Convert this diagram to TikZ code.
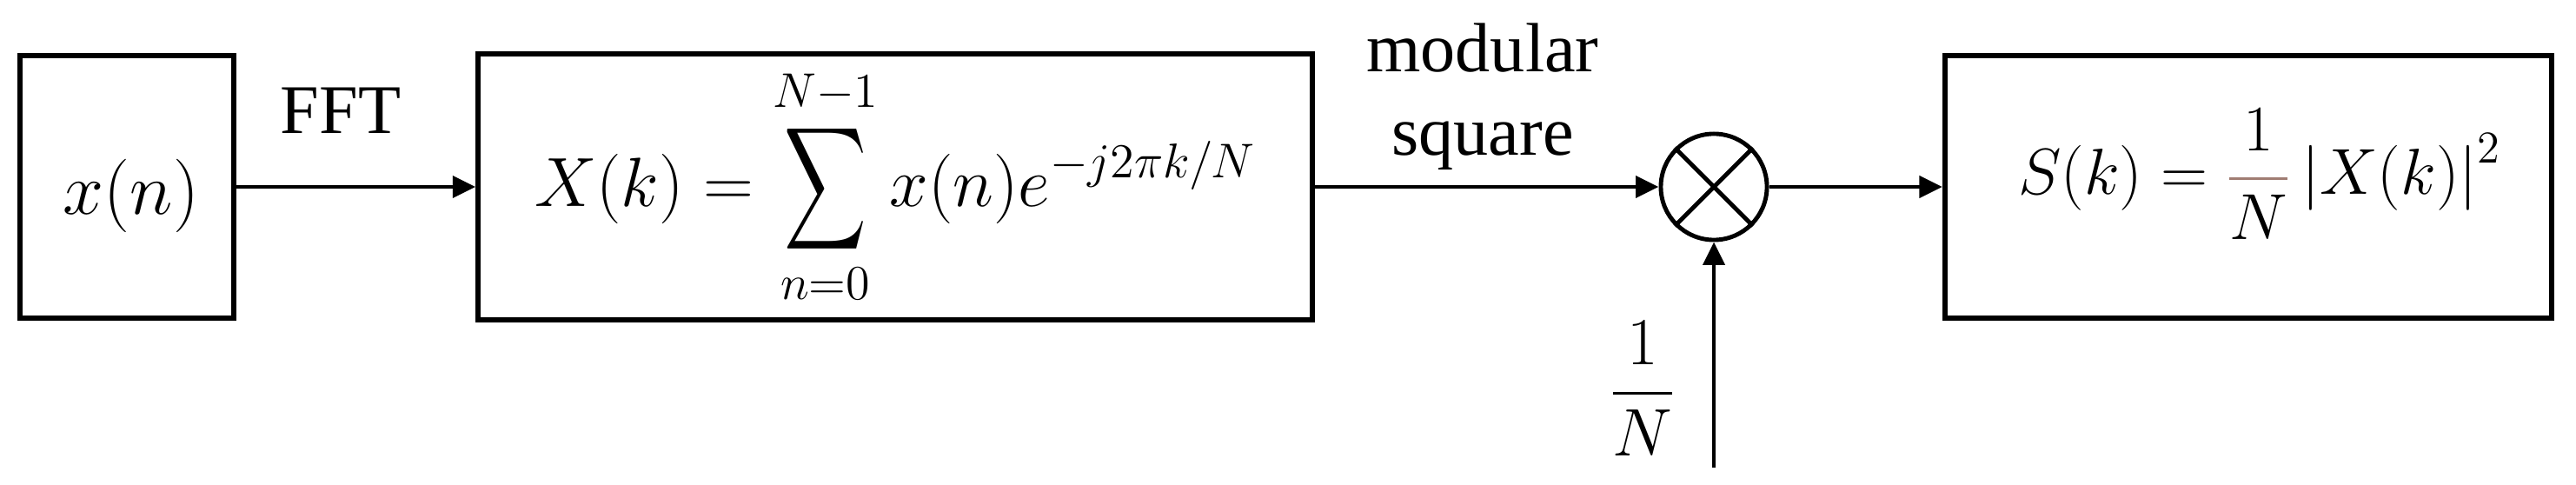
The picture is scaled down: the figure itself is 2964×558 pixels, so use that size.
\RequirePackage{fix-cm}
\documentclass[tikz,border=0pt]{standalone}
\usepackage{amsmath}
\usepackage{graphicx}
\usepackage[no-math]{fontspec}
\setmainfont{Liberation Serif}
\usetikzlibrary{arrows.meta}
\definecolor{fracbar}{RGB}{160,125,115}
\newcommand{\tallsum}{\mathop{\vcenter{\hbox{\scalebox{0.9}[1.35]{$\displaystyle\sum$}}}}\limits}
\begin{document}
\begin{tikzpicture}[x=0.01cm,y=-0.01cm,
  blk/.style={draw, line width=1.7pt, inner sep=0pt},
  conn/.style={line width=1.4pt, -{Triangle[length=7.5pt,width=7pt]}},
  lbl/.style={font=\fontsize{22.8}{27.3}\selectfont, inner sep=0pt}]
\useasboundingbox (0,0) rectangle (2964,558);
% blocks
\node[blk, minimum width=2.45cm, minimum height=3.01cm,
  label={[font=\fontsize{24}{28}\selectfont, yshift=-0.1cm, xshift=0.05cm]center:$x(n)$}] (b1) at (146,215) {};
\node[blk, minimum width=9.59cm, minimum height=3.06cm,
  font=\fontsize{22.8}{27}\selectfont] (b2) at (1030,215)
  {$\displaystyle X(k)=\tallsum_{n=0}^{N-1}x(n)e^{-j2\pi k/N}$};
\node[draw, circle, line width=1.4pt, minimum size=1.22cm, inner sep=0pt] (m) at (1972,215) {};
\draw[line width=1.4pt] (m.north west) -- (m.south east) (m.north east) -- (m.south west);
\node[blk, minimum width=6.98cm, minimum height=3.01cm,
  label={[font=\fontsize{21.3}{25}\selectfont, yshift=0.15cm, xshift=0.13cm]center:$\displaystyle S(k)=\color{fracbar}\frac{\color{black}1}{\color{black}N}\color{black}\left|X(k)\right|^2$}] (b3) at (2587,215) {};
% connectors
\coordinate (in) at (1972,538);
\draw[conn] (b1.east) -- (b2.west);
\draw[conn] (b2.east) -- (m.west);
\draw[conn] (m.east) -- (b3.west);
\draw[conn] (in) -- (m.south);
% labels
\node[lbl, anchor=base] (fft) at (392,154) {FFT};
\node[lbl, align=center] (ms) at (1706,111) {modular\\square};
\node[font=\fontsize{22}{26}\selectfont, inner sep=0pt] (inv) at (1890,447) {$\displaystyle\frac{1}{N}$};
\end{tikzpicture}
\end{document}
